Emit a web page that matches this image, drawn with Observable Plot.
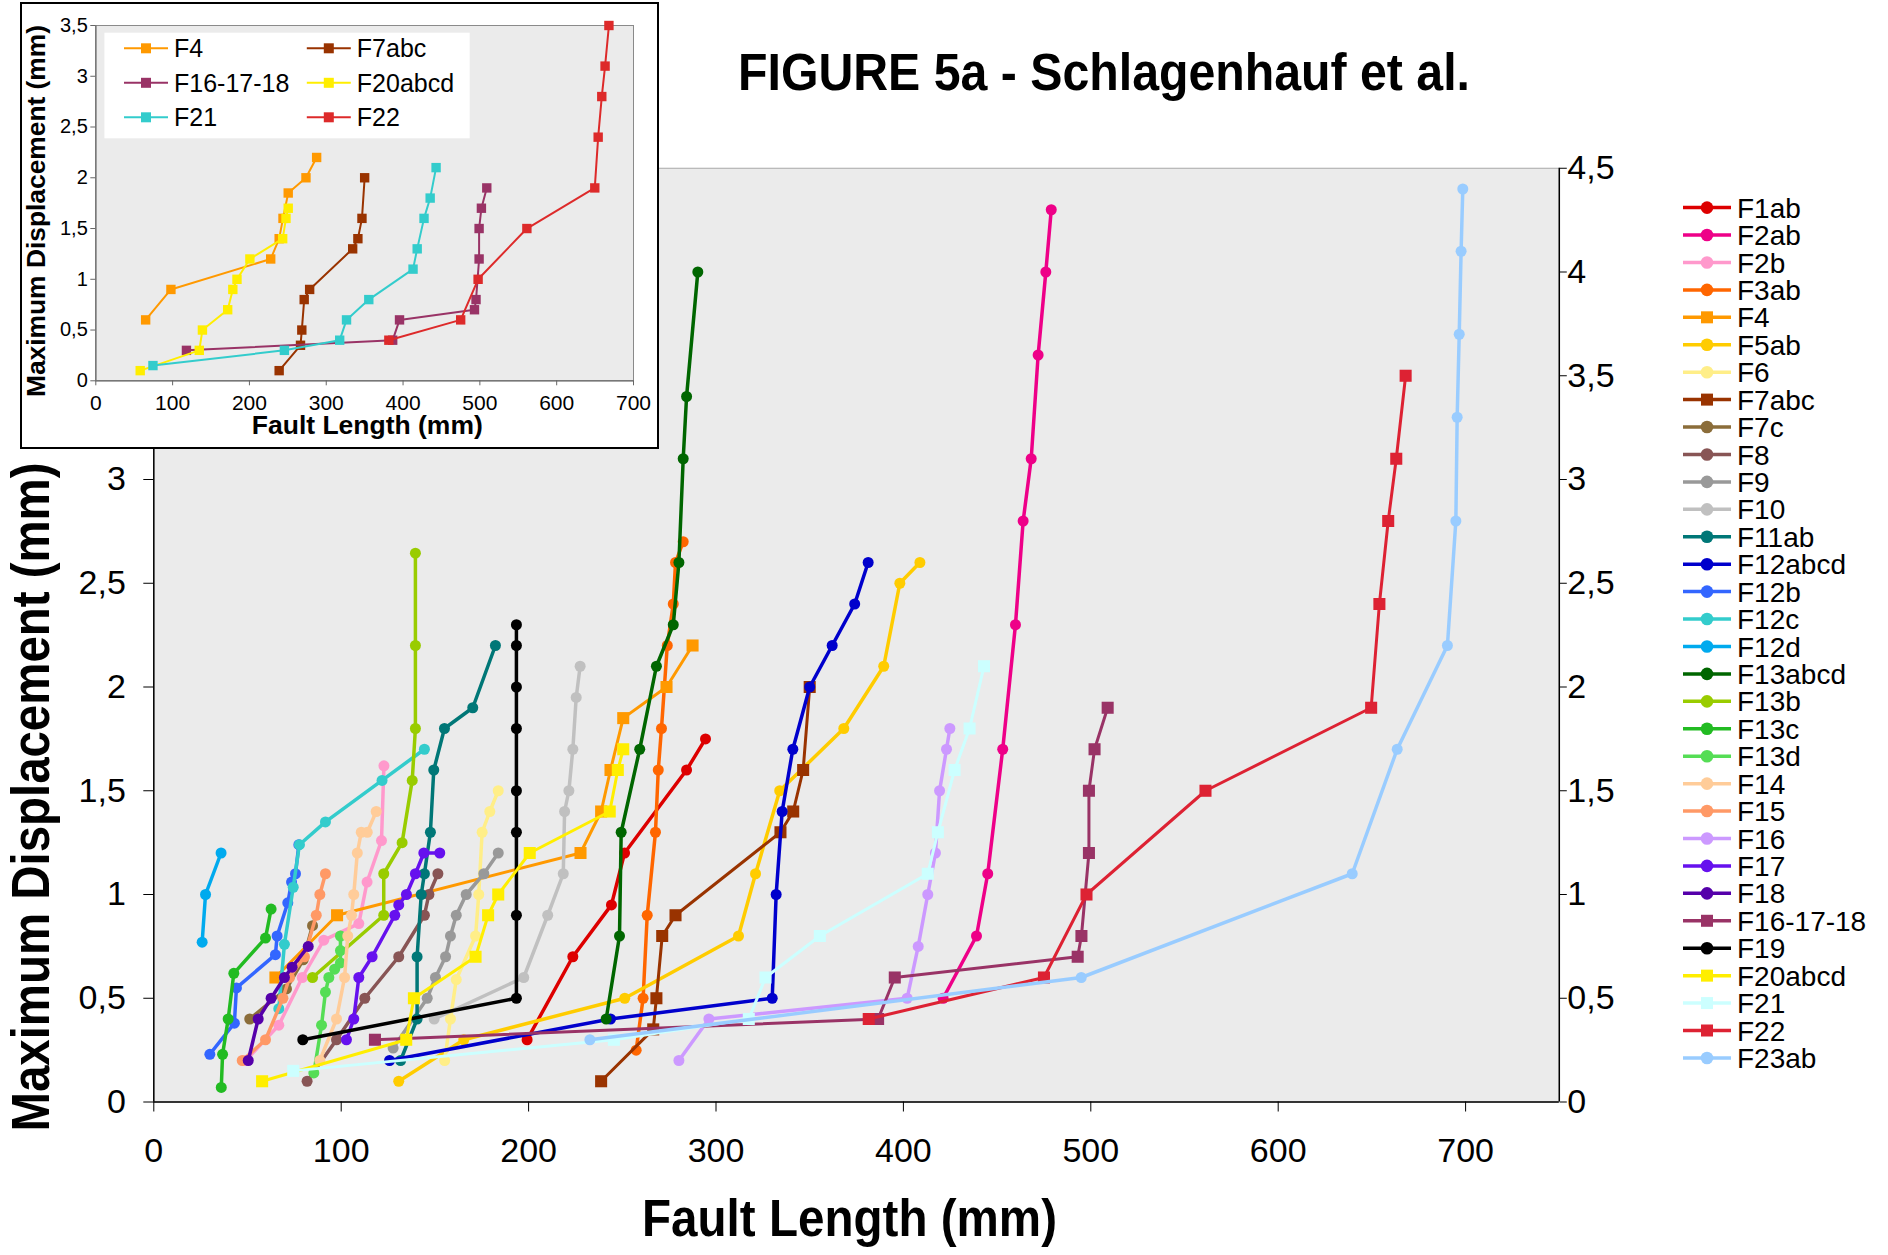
<!DOCTYPE html>
<html><head><meta charset="utf-8">
<script src="https://cdn.jsdelivr.net/npm/d3@7"></script>
<script src="https://cdn.jsdelivr.net/npm/@observablehq/plot@0.6"></script>
<style>
html,body{margin:0;padding:0;background:#fff;}
body{width:1888px;height:1255px;position:relative;overflow:hidden;font-family:"Liberation Sans",Arial,Helvetica,sans-serif;}
.abs{position:absolute;left:0;top:0;}
</style></head><body>
<div id="main" class="abs"></div>
<div style="position:absolute;left:20px;top:2px;width:639px;height:447px;border:2px solid #000;box-sizing:border-box;background:#fff;"></div>
<div id="inset" style="position:absolute;left:20px;top:2px;"></div>
<svg id="overlay" class="abs" width="1888" height="1255"></svg>
<script>
// ---- data: [fault length (mm), maximum displacement (mm)] ----
const F1ab = [[199.2,0.30],[223.6,0.70],[244.2,0.95],[251.2,1.20],[284.3,1.60],[294.4,1.75]];
const F2ab = [[421.2,0.50],[439,0.80],[445,1.10],[453,1.70],[459.8,2.30],[463.9,2.80],[468.2,3.10],[471.9,3.60],[476,4.00],[478.9,4.30]];
const F2b = [[49,0.20],[66.7,0.37],[79.2,0.60],[90.7,0.78],[109.4,0.86],[113.8,1.06],[121.5,1.26],[122.8,1.62]];
const F3ab = [[257.4,0.25],[261.1,0.50],[263.3,0.90],[267.7,1.30],[269.2,1.60],[270.9,1.80],[274,2.20],[277.2,2.40],[278.4,2.60],[282.5,2.70]];
const F4 = [[64.9,0.60],[97.8,0.90],[227.7,1.20],[238.7,1.40],[243.7,1.60],[250.5,1.85],[273.6,2.00],[287.5,2.20]];
const F5ab = [[130.7,0.10],[165.4,0.30],[251.3,0.50],[312,0.80],[321.1,1.10],[334,1.50],[368.2,1.80],[389.5,2.10],[398.1,2.50],[408.8,2.60]];
const F6 = [[155.2,0.20],[158.3,0.40],[161.4,0.59],[171.7,0.80],[173.4,1.00],[175.2,1.30],[179.3,1.40],[183.8,1.50]];
const F7abc = [[238.7,0.10],[266.5,0.35],[268.2,0.50],[271.3,0.80],[278.4,0.90],[334.4,1.30],[341.2,1.40],[346.5,1.60],[350,2.00]];
const F7c = [[51.2,0.40],[70.8,0.545],[79.7,0.685],[84.7,0.85]];
const F8 = [[81.8,0.10],[97.5,0.30],[112.6,0.50],[130.7,0.70],[144.4,0.90],[146.8,1.00],[151.6,1.10]];
const F9 = [[127.7,0.26],[145.9,0.50],[150.3,0.60],[155.7,0.70],[158.3,0.80],[161.4,0.90],[166.7,1.00],[176.1,1.10],[183.8,1.20]];
const F10 = [[149.6,0.40],[197.4,0.60],[210.2,0.90],[218.5,1.10],[219.2,1.40],[221.5,1.50],[223.6,1.70],[225.4,1.95],[227.5,2.10]];
const F11ab = [[131.7,0.20],[140.5,0.40],[140.5,0.70],[142.7,1.00],[144.4,1.10],[147.6,1.30],[149.4,1.60],[155.1,1.80],[170.2,1.90],[182.3,2.20]];
const F12abcd = [[125.8,0.20],[243.7,0.40],[330,0.50],[332.1,1.00],[335.3,1.40],[341,1.70],[350,2.00],[362,2.20],[374,2.40],[381.2,2.60]];
const F12b = [[29.9,0.23],[43,0.38],[44.1,0.55],[64.9,0.71],[65.8,0.80],[71.5,0.96],[73.5,1.06],[75.6,1.10],[77.4,1.24]];
const F12c = [[66.7,0.45],[69.7,0.76],[74.4,1.035],[77.7,1.24],[91.6,1.35],[121.8,1.55],[144.4,1.70]];
const F12d = [[25.8,0.77],[27.6,1.00],[35.9,1.20]];
const F13abcd = [[241.4,0.40],[248.5,0.80],[249.4,1.30],[259.3,1.70],[268.2,2.10],[277.2,2.30],[280.2,2.60],[282.5,3.10],[284.3,3.40],[290.3,4.00]];
const F13b = [[84.7,0.60],[122.7,0.90],[122.7,1.10],[132.5,1.25],[137.9,1.55],[139.6,1.80],[139.6,2.20],[139.6,2.645]];
const F13c = [[36,0.07],[36.7,0.23],[39.7,0.40],[42.7,0.62],[59.6,0.79],[62.6,0.93]];
const F13d = [[85.4,0.14],[89.5,0.37],[91.6,0.53],[93.4,0.60],[96.5,0.64],[99.6,0.67],[99.6,0.73],[99.6,0.80]];
const F14 = [[88.6,0.20],[97.5,0.40],[101.8,0.60],[103.5,0.80],[105.5,0.90],[106.7,1.00],[108.6,1.20],[110.7,1.30],[113.9,1.30],[118.7,1.40]];
const F15 = [[47.2,0.20],[59.6,0.30],[68.9,0.50],[72.4,0.60],[80.4,0.70],[86.7,0.90],[88.6,1.00],[91.6,1.10]];
const F16 = [[280.2,0.20],[296.2,0.40],[402,0.50],[407.9,0.75],[413,1.00],[417.1,1.20],[419.3,1.50],[423,1.70],[424.8,1.80]];
const F17 = [[102.8,0.30],[106.7,0.40],[109.4,0.60],[116.5,0.70],[128.6,0.90],[130.7,0.95],[134.8,1.00],[139.6,1.10],[144.1,1.20],[152.6,1.20]];
const F18 = [[50.4,0.20],[55.7,0.40],[62.6,0.50],[69.7,0.60],[73.8,0.65],[82.4,0.75]];
const F16_17_18 = [[118,0.30],[386.5,0.40],[395.4,0.60],[493,0.70],[495,0.80],[499,1.20],[499,1.50],[502,1.70],[509,1.90]];
const F19 = [[79.5,0.30],[193.5,0.50],[193.5,0.90],[193.5,1.30],[193.5,1.50],[193.5,1.80],[193.5,2.00],[193.5,2.20],[193.5,2.30]];
const F20abcd = [[57.8,0.10],[134.7,0.30],[138.8,0.50],[171.7,0.70],[178.4,0.90],[183.8,1.00],[200.6,1.20],[243.3,1.40],[247.6,1.60],[250.5,1.70]];
const F21 = [[74.4,0.15],[245.5,0.30],[317.5,0.40],[326.4,0.60],[355.4,0.80],[413,1.10],[418.4,1.30],[427.3,1.60],[435.3,1.80],[443,2.10]];
const F22 = [[381.5,0.40],[475,0.60],[497.7,1.00],[561.2,1.50],[649.6,1.90],[654,2.40],[658.7,2.80],[663,3.10],[668,3.50]];
const F23ab = [[232.7,0.30],[494.9,0.60],[639.5,1.10],[663.5,1.70],[690.3,2.20],[694.8,2.80],[695.5,3.30],[696.6,3.70],[697.6,4.10],[698.5,4.40]];

const seriesNames = ["F1ab","F2ab","F2b","F3ab","F4","F5ab","F6","F7abc","F7c","F8","F9","F10","F11ab","F12abcd","F12b","F12c","F12d","F13abcd","F13b","F13c","F13d","F14","F15","F16","F17","F18","F16-17-18","F19","F20abcd","F21","F22","F23ab"];
const seriesData = [F1ab,F2ab,F2b,F3ab,F4,F5ab,F6,F7abc,F7c,F8,F9,F10,F11ab,F12abcd,F12b,F12c,F12d,F13abcd,F13b,F13c,F13d,F14,F15,F16,F17,F18,F16_17_18,F19,F20abcd,F21,F22,F23ab];
const squareSeries = ["F4","F7abc","F16-17-18","F20abcd","F21","F22"];
const insetSeries = ["F4","F7abc","F16-17-18","F20abcd","F21","F22"];
const xTicks = [0,100,200,300,400,500,600,700];
const yTicks = [0,0.5,1,1.5,2,2.5,3,3.5,4,4.5];
const yTicksLeftVisible = [0,0.5,1,1.5,2,2.5,3];   // the rest sit under the inset
const insetYTicks = [0,0.5,1,1.5,2,2.5,3,3.5];

// ---- styles ----
const seriesColors = ["#dd0000","#ee0088","#ff99cc","#ff6600","#ff9900","#ffcc00","#ffee88","#993300","#8b6d3a","#885555","#999999","#c0c0c0","#007777","#0000cc","#3366ff","#33cccc","#00aaee","#006600","#99cc00","#22bb22","#55dd55","#ffcc99","#ff9966","#cc99ff","#6611ee","#5500aa","#993366","#000000","#ffee00","#ccffff","#dd2233","#99ccff"];
const insetColors = {"F4":"#ff9900","F7abc":"#993300","F16-17-18":"#993366","F20abcd":"#ffee00","F21":"#33cccc","F22":"#dd2a2a"};
const FONT = "Liberation Sans, Arial, Helvetica, sans-serif";
const fmt = d => String(d).replace(".", ",");
const rows = (name, data) => data.map(([len, disp]) => ({name, len, disp}));

// ---- main chart ----
const mainMarks = [Plot.frame({fill:"#ebebeb", stroke:"#a8a8a8"})];
seriesNames.forEach((name, i) => {
  const d = rows(name, seriesData[i]);
  const sq = squareSeries.includes(name);
  mainMarks.push(Plot.line(d, {x:"len", y:"disp", stroke:seriesColors[i], strokeWidth: sq ? 3 : 3.5}));
  mainMarks.push(Plot.dot(d, {x:"len", y:"disp", fill:seriesColors[i], stroke:"none", symbol: sq ? "square" : "circle", r: sq ? 6.8 : 5.5}));
});
mainMarks.push(
  Plot.ruleX([0, 750], {stroke:"#000", strokeWidth:1.5}),
  Plot.ruleY([0], {stroke:"#000", strokeWidth:1.5}),
  Plot.axisX({ticks:xTicks, anchor:"bottom", tickSize:10, tickPadding:26, fontSize:34, label:null}),
  Plot.axisY({ticks:yTicksLeftVisible, anchor:"left", tickFormat:fmt, tickSize:10, tickPadding:18, fontSize:34, label:null}),
  Plot.axisY({ticks:yTicks, anchor:"right", tickFormat:fmt, tickSize:7, tickPadding:1, fontSize:34, label:null})
);
const main = Plot.plot({
  width:1888, height:1255,
  marginLeft:153.3, marginRight:329.2, marginTop:167.75, marginBottom:153.5,
  x:{domain:[0,750]}, y:{domain:[0,4.5]},
  style:{fontFamily:FONT, fontSize:"34px", color:"#000", background:"transparent"},
  marks: mainMarks
});
document.getElementById("main").append(main);

// ---- inset chart ----
const insetMarks = [Plot.frame({fill:"#ebebeb", stroke:"#8a8a8a"})];
insetSeries.forEach(name => {
  const d = rows(name, seriesData[seriesNames.indexOf(name)]);
  insetMarks.push(Plot.line(d, {x:"len", y:"disp", stroke:insetColors[name], strokeWidth:2}));
  insetMarks.push(Plot.dot(d, {x:"len", y:"disp", fill:insetColors[name], stroke:"none", symbol:"square", r:5.3}));
});
insetMarks.push(
  Plot.ruleX([0], {stroke:"#777", strokeWidth:1.5}),
  Plot.ruleY([0], {stroke:"#777", strokeWidth:1.5}),
  Plot.axisX({ticks:xTicks, anchor:"bottom", tickSize:5, tickPadding:9, fontSize:21, label:null, stroke:"#666"}),
  Plot.axisY({ticks:insetYTicks, anchor:"left", tickFormat:fmt, tickSize:5, tickPadding:3, fontSize:20, label:null, stroke:"#666"})
);
const inset = Plot.plot({
  width:639, height:447,
  marginLeft:75.3, marginRight:26, marginTop:23, marginBottom:68.7,
  x:{domain:[0,700]}, y:{domain:[0,3.5]},
  style:{fontFamily:FONT, fontSize:"21px", color:"#000", background:"transparent"},
  marks: insetMarks
});
document.getElementById("inset").append(inset);

// ---- titles and legends ----
const ov = d3.select("#overlay").style("font-family", FONT);
ov.append("text").attr("x",1104).attr("y",90).attr("text-anchor","middle")
  .attr("font-size",51).attr("font-weight","bold").attr("textLength",732).attr("lengthAdjust","spacingAndGlyphs")
  .text("FIGURE 5a - Schlagenhauf et al.");
ov.append("text").attr("x",849.5).attr("y",1236).attr("text-anchor","middle")
  .attr("font-size",51).attr("font-weight","bold").attr("textLength",415).attr("lengthAdjust","spacingAndGlyphs")
  .text("Fault Length (mm)");
ov.append("text").attr("transform","translate(49,797) rotate(-90)").attr("text-anchor","middle")
  .attr("font-size",54).attr("font-weight","bold").attr("textLength",669).attr("lengthAdjust","spacingAndGlyphs")
  .text("Maximum Displacement (mm)");
// inset titles
ov.append("text").attr("x",367.3).attr("y",434).attr("text-anchor","middle")
  .attr("font-size",25).attr("font-weight","bold").attr("textLength",231).attr("lengthAdjust","spacingAndGlyphs")
  .text("Fault Length (mm)");
ov.append("text").attr("transform","translate(45,211) rotate(-90)").attr("text-anchor","middle")
  .attr("font-size",25).attr("font-weight","bold").attr("textLength",372).attr("lengthAdjust","spacingAndGlyphs")
  .text("Maximum Displacement (mm)");

// main legend
const lg = ov.append("g");
seriesNames.forEach((name, i) => {
  const cy = 207.6 + i * 27.43;
  const g = lg.append("g").attr("transform", `translate(0,${cy})`);
  g.append("line").attr("x1",1683).attr("x2",1731).attr("y1",0).attr("y2",0).attr("stroke",seriesColors[i]).attr("stroke-width",3.5);
  if (squareSeries.includes(name)) g.append("rect").attr("x",1701).attr("y",-6).attr("width",12).attr("height",12).attr("fill",seriesColors[i]);
  else g.append("circle").attr("cx",1707).attr("cy",0).attr("r",6.3).attr("fill",seriesColors[i]);
  g.append("text").attr("x",1737).attr("y",0).attr("dy","0.36em").attr("font-size",28).text(name);
});

// inset legend
ov.append("rect").attr("x",104.4).attr("y",32.7).attr("width",365.3).attr("height",105.6).attr("fill","#fff");
insetSeries.forEach((name, i) => {
  const col = i % 2, row = Math.floor(i / 2);
  const cy = 48.3 + row * 34.5;
  const x0 = col === 0 ? 124 : 306.8;
  const g = ov.append("g").attr("transform", `translate(${x0},${cy})`);
  g.append("line").attr("x1",0).attr("x2",44).attr("stroke",insetColors[name]).attr("stroke-width",2);
  g.append("rect").attr("x",17).attr("y",-5).attr("width",10).attr("height",10).attr("fill",insetColors[name]);
  g.append("text").attr("x",50).attr("y",0).attr("dy","0.36em").attr("font-size",25).text(name);
});
</script>
</body></html>
